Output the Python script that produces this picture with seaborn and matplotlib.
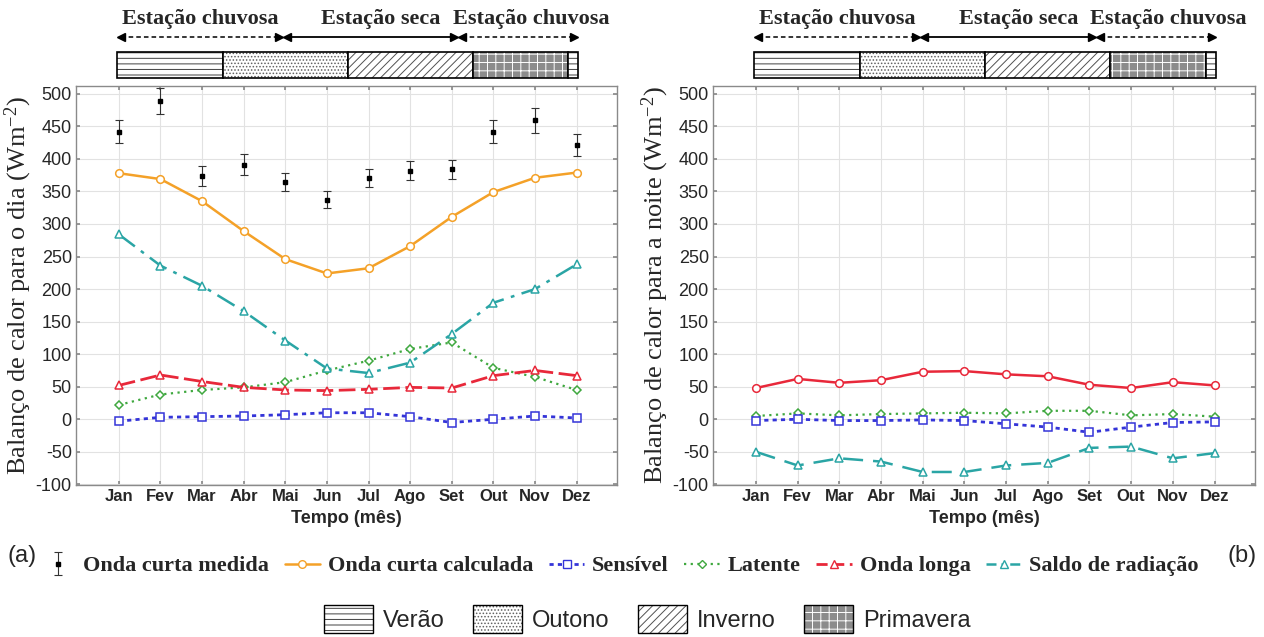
import matplotlib
matplotlib.use('Agg')
import matplotlib.pyplot as plt
import seaborn as sns
import pandas as pd
from matplotlib.patches import Patch
from matplotlib.lines import Line2D

# ---------------- data ----------------
months = ['Jan', 'Fev', 'Mar', 'Abr', 'Mai', 'Jun', 'Jul', 'Ago', 'Set', 'Out', 'Nov', 'Dez']
month_num = list(range(1, 13))

day_measured = [442, 489, 374, 391, 365, 337, 371, 382, 384, 442, 459, 421]
day_measured_err = [18, 20, 15, 16, 14, 13, 14, 15, 15, 18, 19, 17]
day_sw_calc = [378, 369, 335, 289, 246, 224, 232, 266, 311, 349, 371, 379]
day_sensible = [-3, 3, 4, 5, 7, 10, 10, 4, -5, 0, 5, 2]
day_latent = [22, 38, 45, 49, 57, 75, 90, 108, 118, 79, 65, 45]
day_longwave = [52, 68, 58, 49, 45, 44, 46, 49, 48, 67, 75, 67]
day_net = [284, 236, 205, 166, 121, 78, 71, 87, 131, 179, 200, 238]

night_sensible = [-2, 0, -2, -2, -1, -2, -7, -12, -20, -12, -5, -4]
night_latent = [5, 9, 6, 8, 9, 10, 9, 13, 13, 6, 8, 4]
night_longwave = [48, 62, 56, 60, 73, 74, 69, 66, 53, 48, 57, 52]
night_net = [-50, -71, -60, -65, -81, -81, -71, -67, -44, -42, -60, -52]

yticks = list(range(-100, 501, 50))

season_labels = ['Verão', 'Outono', 'Inverno', 'Primavera']
season_seq = ['Verão', 'Outono', 'Inverno', 'Primavera', 'Verão']
season_edges = [0.95, 3.5, 6.5, 9.5, 11.8, 12.03]
period_labels = ['Estação chuvosa', 'Estação seca', 'Estação chuvosa']
period_edges = [0.95, 4.94, 9.15, 12.03]

series_names = ['Onda curta medida', 'Onda curta calculada', 'Sensível', 'Latente',
                'Onda longa', 'Saldo de radiação']

# ---------------- style ----------------
sns.set_theme(style='whitegrid')
plt.rcParams['font.family'] = ['Liberation Sans', 'DejaVu Sans']
plt.rcParams['mathtext.fontset'] = 'custom'
plt.rcParams['mathtext.rm'] = 'Liberation Serif'
plt.rcParams['mathtext.it'] = 'Liberation Serif:italic'
plt.rcParams['hatch.linewidth'] = 0.7

C_OR = '#F4A128'
C_BL = '#3434D8'
C_GR = '#3FA83F'
C_RD = '#E8283A'
C_TL = '#2AA5A5'

hatches = {'Verão': '---', 'Outono': '.....', 'Inverno': '////', 'Primavera': '++'}
faces = {'Verão': 'white', 'Outono': 'white', 'Inverno': 'white', 'Primavera': '#8c8c8c'}
hcols = {'Verão': '#404040', 'Outono': '#606060', 'Inverno': '#505050', 'Primavera': 'white'}

fig = plt.figure(figsize=(12.64, 6.37), dpi=100)
W, H = 1264, 637


def fax(x0, y0, x1, y1):
    return fig.add_axes([x0 / W, 1 - y1 / H, (x1 - x0) / W, (y1 - y0) / H])


def style_main(ax, ylabel):
    ax.set_xlim(-0.03, 12.97)
    ax.set_ylim(-101, 512)
    ax.set_xticks(month_num)
    ax.set_xticklabels(months, fontsize=12, fontweight='bold')
    ax.set_yticks(yticks)
    ax.set_yticklabels([str(v) for v in yticks], fontsize=13)
    ax.grid(True, color='#e2e2e2', lw=0.8)
    ax.set_facecolor('white')
    for s in ax.spines.values():
        s.set_color('#8a8a8a')
        s.set_linewidth(1.0)
    ax.tick_params(axis='both', which='both', direction='in', length=3, color='#8a8a8a',
                   top=True, right=True, bottom=True, left=True, pad=3)
    ax.set_xlabel('Tempo (mês)', fontsize=13, fontweight='bold', labelpad=4)
    ax.set_ylabel(ylabel, fontsize=19, family='Liberation Serif', labelpad=1)


def line(ax, y, color, marker, ls, lw, ms=5.5):
    df = pd.DataFrame({'m': month_num, 'v': y})
    sns.lineplot(data=df, x='m', y='v', ax=ax, color=color, marker=marker, linestyle=ls,
                 lw=lw, markersize=ms, markerfacecolor='white', markeredgecolor=color,
                 markeredgewidth=1.1, errorbar=None, legend=False)


def season_bar(x0, x1):
    bx = fax(x0, 3, x1, 82)
    bx.set_xlim(-0.03, 12.97)
    bx.set_ylim(82, 3)
    bx.axis('off')
    for i, nm in enumerate(season_seq):
        left = season_edges[i]
        width = season_edges[i + 1] - season_edges[i]
        bx.barh(65, width, left=left, height=26, color=faces[nm], edgecolor=hcols[nm],
                hatch=hatches[nm], lw=0)
        bx.barh(65, width, left=left, height=26, fill=False, edgecolor='black', lw=1.2)
    styles = ['--', '-', '--']
    text_x = [2.95, 7.3, 10.9]
    for i, lab in enumerate(period_labels):
        a, b = period_edges[i], period_edges[i + 1]
        if styles[i] == '--':
            bx.plot([a + 0.1, b - 0.1], [37, 37], color='black', lw=1.1, dashes=(3, 2))
        else:
            bx.plot([a + 0.1, b - 0.1], [37, 37], color='black', lw=1.3)
        bx.plot([a + 0.1], [37], marker='<', color='black', ms=6)
        bx.plot([b - 0.1], [37], marker='>', color='black', ms=6)
        bx.text(text_x[i], 19, lab, ha='center', va='center', fontsize=16,
                fontweight='bold', family='Liberation Serif')
    return bx


# ---------------- left panel (day) ----------------
axL = fax(76, 86, 617, 485)
eb = axL.errorbar(month_num, day_measured, yerr=day_measured_err, fmt='s', color='black',
                  ms=3.5, capsize=3, elinewidth=0.8, capthick=0.8, ecolor='#333333')
line(axL, day_sw_calc, C_OR, 'o', '-', 1.8)
line(axL, day_sensible, C_BL, 's', (0, (1.5, 1.5)), 2.0)
line(axL, day_latent, C_GR, 'D', (0, (1, 2)), 1.6, ms=4.5)
line(axL, day_longwave, C_RD, '^', (0, (6, 2)), 2.0)
line(axL, day_net, C_TL, '^', (0, (8, 3, 1.5, 3)), 1.8)
style_main(axL, 'Balanço de calor para o dia (Wm$^{-2}$)')

# ---------------- right panel (night) ----------------
axR = fax(713, 86, 1255, 485)
line(axR, night_longwave, C_RD, 'o', '-', 1.8)
line(axR, night_latent, C_GR, 'D', (0, (1, 2)), 1.6, ms=4.5)
line(axR, night_sensible, C_BL, 's', (0, (1.5, 1.5)), 2.0)
line(axR, night_net, C_TL, '^', (0, (8, 4)), 1.8)
style_main(axR, 'Balanço de calor para a noite (Wm$^{-2}$)')

season_bar(76, 617)
season_bar(713, 1255)

# ---------------- legends ----------------
handles = [
    eb,
    Line2D([], [], color=C_OR, marker='o', ls='-', lw=1.8, ms=5.5, mfc='white', mec=C_OR),
    Line2D([], [], color=C_BL, marker='s', ls=(0, (1.5, 1.5)), lw=2.0, ms=5.5, mfc='white', mec=C_BL),
    Line2D([], [], color=C_GR, marker='D', ls=(0, (1, 2)), lw=1.6, ms=4.5, mfc='white', mec=C_GR),
    Line2D([], [], color=C_RD, marker='^', ls=(0, (4, 2)), lw=2.0, ms=5.5, mfc='white', mec=C_RD),
    Line2D([], [], color=C_TL, marker='^', ls=(0, (4, 2, 1.5, 2)), lw=1.8, ms=5.5, mfc='white', mec=C_TL),
]
leg1 = fig.legend(handles, series_names, loc='center', bbox_to_anchor=(0.49, 1 - 566 / H),
                  ncol=6, frameon=False, handlelength=1.6, columnspacing=0.7, handletextpad=0.35,
                  prop=dict(family='Liberation Serif', weight='bold', size=16))

s_handles = [(Patch(facecolor=faces[s], edgecolor=hcols[s], hatch=hatches[s], lw=0),
              Patch(facecolor='none', edgecolor='black', lw=1.0)) for s in season_labels]
leg2 = fig.legend(s_handles, season_labels, loc='center', bbox_to_anchor=(0.512, 1 - 619 / H),
                  ncol=4, frameon=False, handlelength=2.1, handleheight=1.4, columnspacing=1.2,
                  handletextpad=0.4, prop=dict(family='Liberation Sans', size=17))

fig.text(22 / W, 1 - 556 / H, '(a)', fontsize=17, ha='center', va='center')
fig.text(1242 / W, 1 - 556 / H, '(b)', fontsize=17, ha='center', va='center')

fig.savefig('out.png', dpi=100)
